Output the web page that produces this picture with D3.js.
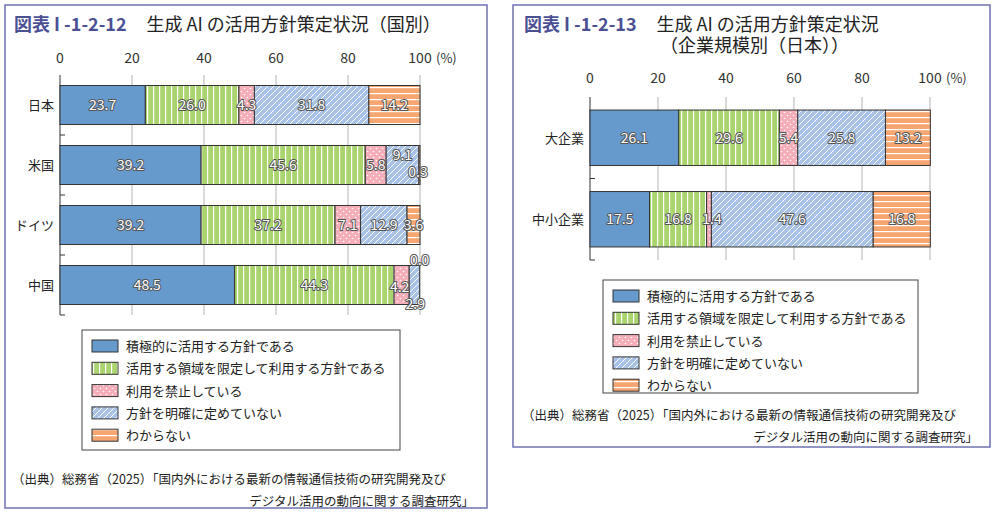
<!DOCTYPE html><html><head><meta charset="utf-8"><script src="https://cdn.jsdelivr.net/npm/d3@7"></script>
<style>body{margin:0;background:#fff;font-family:"Noto Sans CJK JP","Noto Sans",sans-serif}</style></head><body><svg id="s" width="996" height="514"></svg>
<script>
const seriesNames=["積極的に活用する方針である","活用する領域を限定して利用する方針である","利用を禁止している","方針を明確に定めていない","わからない"];
const countries=["日本","米国","ドイツ","中国"];
const countryVals=[[23.7,26.0,4.3,31.8,14.2],[39.2,45.6,5.8,9.1,0.3],[39.2,37.2,7.1,12.9,3.6],[48.5,44.3,4.2,2.9,0.0]];
const sizes=["大企業","中小企業"];
const sizeVals=[[26.1,29.6,5.4,25.8,13.2],[17.5,16.8,1.4,47.6,16.8]];
const ticks=[0,20,40,60,80,100];
const svg=d3.select("#s");
const defs=svg.append("defs");
const cols=["#6699cc","#a9d46e","#f5aeb9","#a9c3e8","#f7a571"];
function pat(id,bg,draw){const p=defs.append("pattern").attr("id",id).attr("patternUnits","userSpaceOnUse").attr("width",6).attr("height",6);p.append("rect").attr("width",6).attr("height",6).attr("fill",bg);draw(p);}
pat("p0",cols[0],()=>{});
pat("p1",cols[1],p=>p.append("rect").attr("x",3).attr("width",1.2).attr("height",6).attr("fill","#fff"));
pat("p2",cols[2],p=>{p.append("circle").attr("cx",1.5).attr("cy",1.5).attr("r",0.8).attr("fill","#fff");p.append("circle").attr("cx",4.5).attr("cy",4.5).attr("r",0.8).attr("fill","#fff");});
pat("p3",cols[3],p=>{p.append("path").attr("d","M0,6L6,0M-1,1L1,-1M5,7L7,5").attr("stroke","#fff").attr("stroke-width",1);});
pat("p4",cols[4],p=>p.append("rect").attr("y",3).attr("width",6).attr("height",1.2).attr("fill","#fff"));
const border="#6f73b0",titleC="#4b4f93";
function panel(x,y,w,h){svg.append("rect").attr("x",x).attr("y",y).attr("width",w).attr("height",h).attr("fill","none").attr("stroke",border).attr("stroke-width",1.5);}
panel(5,5,482,503);panel(513,5,477,442);
function title(x,y,num,txt,txt2,x2){const t=svg.append("text").attr("x",x).attr("y",y).attr("font-size",18);
 t.append("tspan").attr("fill",titleC).attr("font-weight","bold").text(num);t.append("tspan").attr("fill","#222").attr("dx",20).text(txt);
 if(txt2)svg.append("text").attr("x",x2).attr("y",y+21).attr("font-size",18).attr("fill","#222").text(txt2);}
title(14,31,"図表 I -1-2-12","生成 AI の活用方針策定状況（国別）");
title(524,31,"図表 I -1-2-13","生成 AI の活用方針策定状況","（企業規模別（日本））",660);
function chart(cats,vals,x0,x1,y0,y1,axY,barFrac,labelFn){
 const x=d3.scaleLinear().domain([0,100]).range([x0,x1]);
 const y=d3.scaleBand().domain(cats).range([y0,y1]).paddingInner(0).paddingOuter(0);
 const g=svg.append("g");
 ticks.forEach(t=>{if(t>0)g.append("line").attr("x1",x(t)).attr("x2",x(t)).attr("y1",y0).attr("y2",y1).attr("stroke","#ccc").attr("stroke-width",1.5);
  g.append("text").attr("x",x(t)).attr("y",axY).attr("text-anchor","middle").attr("font-size",14).attr("fill","#333").text(t);});
 g.append("text").attr("x",x(100)+16).attr("y",axY).attr("font-size",13).attr("fill","#333").text("(%)");
 g.append("line").attr("x1",x0).attr("x2",x0).attr("y1",y0).attr("y2",y1).attr("stroke","#333");
 cats.forEach((c,i)=>{if(i>0)g.append("line").attr("x1",x0).attr("x2",x0+5).attr("y1",y(c)).attr("y2",y(c)).attr("stroke","#333");});
 g.append("line").attr("x1",x0).attr("x2",x0+5).attr("y1",y1).attr("y2",y1).attr("stroke","#333");
 const bh=y.bandwidth()*barFrac;
 cats.forEach((c,i)=>{let acc=0;const by=y(c)+(y.bandwidth()-bh)/2;
  g.append("text").attr("x",x0-6).attr("y",by+bh/2+5).attr("text-anchor","end").attr("font-size",13).attr("fill","#222").text(c);
  vals[i].forEach((v,k)=>{g.append("rect").attr("x",x(acc)).attr("y",by).attr("width",x(acc+v)-x(acc)).attr("height",bh).attr("fill",`url(#p${k})`).attr("stroke","#333").attr("stroke-width",1);acc+=v;});
  acc=0;vals[i].forEach((v,k)=>{const p=labelFn(i,k,x(acc),x(acc+v),by,bh);acc+=v;
   g.append("text").attr("x",p[0]).attr("y",p[1]).attr("text-anchor","middle").attr("font-size",14).attr("fill","#fff").attr("stroke","#555").attr("stroke-width",2).attr("paint-order","stroke").attr("stroke-linejoin","round").text(v.toFixed(1));
   });
 });
}
chart(countries,countryVals,60,420,75,315,63,0.65,(i,k,a,b,by,bh)=>{
 const cx=(a+b)/2,cy=by+bh/2+5;
 if(i===1&&k===3)return[cx,by+14];
 if(i===1&&k===4)return[b-2,by+bh-8];
 if(i===3&&k===2)return[cx-2,cy+2];
 if(i===3&&k===3)return[a+6,by+bh+4];
 if(i===3&&k===4)return[b,by-1];
 return[cx,cy];});
chart(sizes,sizeVals,590,930,97,260,83,0.68,(i,k,a,b,by,bh)=>{
 const cx=(a+b)/2,cy=by+bh/2+5;
 if(i===1&&k===2)return[cx+3,cy];
 return[cx,cy];});
function legend(x,y,w,h){svg.append("rect").attr("x",x).attr("y",y).attr("width",w).attr("height",h).attr("fill","#fff").attr("stroke","#444");
 seriesNames.forEach((s,k)=>{const yy=y+10+k*22.3;svg.append("rect").attr("x",x+10).attr("y",yy).attr("width",26).attr("height",12).attr("fill",`url(#p${k})`).attr("stroke","#333");
  svg.append("text").attr("x",x+44).attr("y",yy+11).attr("font-size",13).attr("fill","#222").text(s);});}
legend(82,330,318,120);legend(603,280,315,113);
function src(x,y,x2){svg.append("text").attr("x",x).attr("y",y).attr("font-size",12.5).attr("fill","#222").text("（出典）総務省（2025）「国内外における最新の情報通信技術の研究開発及び");
 svg.append("text").attr("x",x2).attr("y",y+22).attr("font-size",12.5).attr("fill","#222").attr("text-anchor","end").text("デジタル活用の動向に関する調査研究」");}
src(12,484,474);src(522,420,978);
</script></body></html>
